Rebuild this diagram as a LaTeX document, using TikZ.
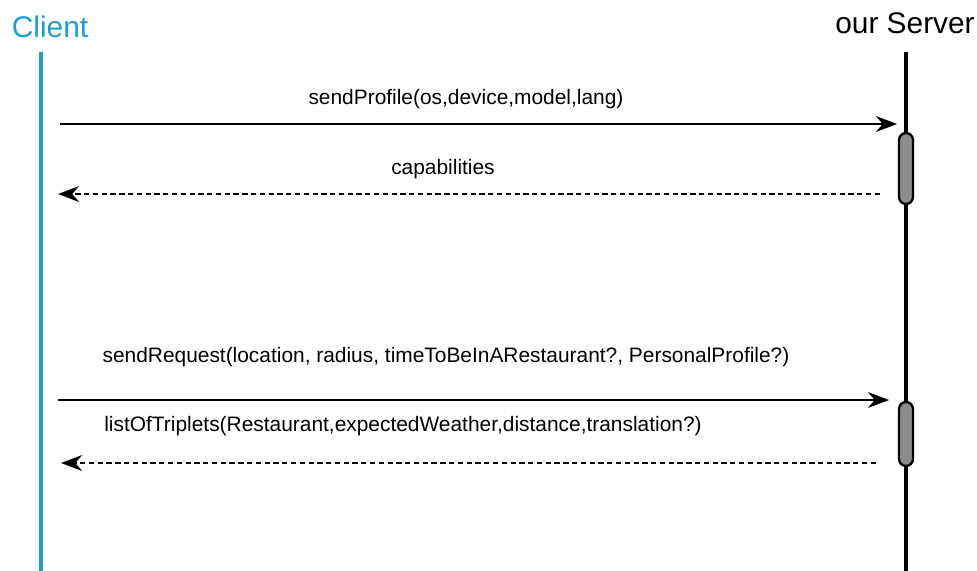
\documentclass[tikz,border=0pt]{standalone}
\usepackage{fontspec}
\setmainfont{Liberation Sans}
\usepackage{xcolor}
\usetikzlibrary{
	arrows.meta,
	calc,
	positioning
}
\definecolor{clientblue}{RGB}{28,160,205}
\definecolor{actgray}{RGB}{140,140,140}
\tikzset{
	msg/.style={line width=1.3pt, -{Stealth[length=12pt,width=9pt]}},
	reply/.style={msg, dash pattern=on 3pt off 2pt},
	act/.style={draw, line width=1.3pt, fill=actgray, rounded corners=4pt},
	lbl/.style={font=\fontsize{11.9}{14}\selectfont, inner sep=0pt}
}

\begin{document}
\begin{tikzpicture}[x=0.02cm, y=-0.02cm]
		\useasboundingbox (0,0) rectangle (977,571);
		% actors
		\node[text=clientblue, font=\fontsize{17}{20}\selectfont] (client) at (50,27) {Client};
		\node[font=\fontsize{17}{20}\selectfont] (server) at (905,23) {our Server};
		% lifelines
		\coordinate (ctop) at (41,52);
		\coordinate (cbot) at (41,571);
		\coordinate (stop) at (906,52);
		\coordinate (sbot) at (906,571);
		\draw[clientblue, line width=2.3pt] (ctop) -- (cbot);
		\draw[line width=1.8pt] (stop) -- (sbot);
		% activations
		\draw[act] (899,133) rectangle (913,204);
		\draw[act] (899,402) rectangle (913,466);
		% messages
		\coordinate (m1a) at (60,124);   \coordinate (m1b) at (897,124);
		\coordinate (m2a) at (880,194);  \coordinate (m2b) at (58,194);
		\coordinate (m3a) at (58,400);   \coordinate (m3b) at (889,400);
		\coordinate (m4a) at (876,463);  \coordinate (m4b) at (61,463);
		\draw[msg] (m1a) -- (m1b);
		\draw[reply] (m2a) -- (m2b);
		\draw[msg] (m3a) -- (m3b);
		\draw[reply] (m4a) -- (m4b);
		\node[lbl] (l1) at (466,99) {sendProfile(os,device,model,lang)};
		\node[lbl] (l2) at (443,169) {capabilities};
		\node[lbl] (l3) at (446,357) {sendRequest(location, radius, timeToBeInARestaurant?, PersonalProfile?)};
		\node[lbl, anchor=west] (l4) at (104,426) {listOfTriplets(Restaurant,expectedWeather,distance,translation?)};
	\end{tikzpicture}
\end{document}
